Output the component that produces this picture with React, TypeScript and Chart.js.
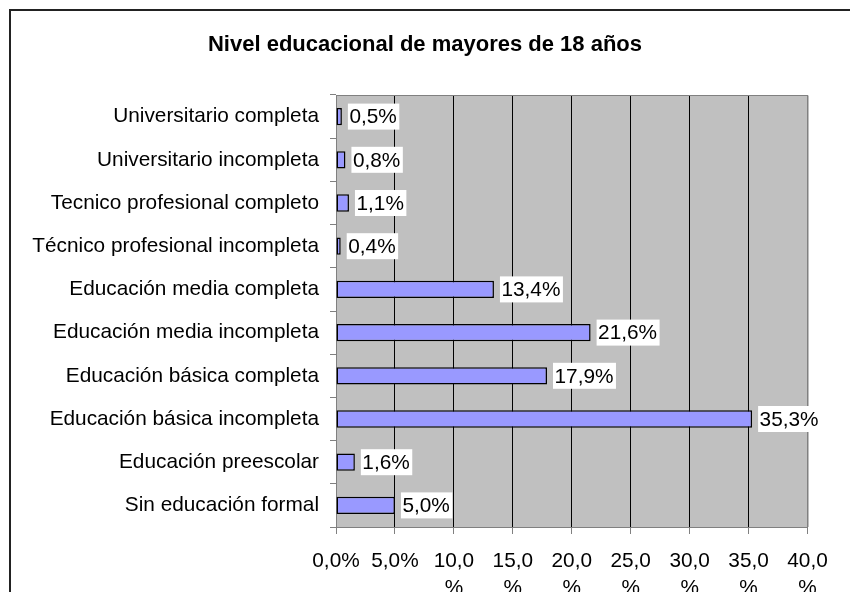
import { useEffect, useRef } from "react";
import { Chart, registerables } from "chart.js";

Chart.register(...registerables);

const TITLE = "Nivel educacional de mayores de 18 años";

const categories = [
  "Universitario completa",
  "Universitario incompleta",
  "Tecnico profesional completo",
  "Técnico profesional incompleta",
  "Educación media completa",
  "Educación media incompleta",
  "Educación básica completa",
  "Educación básica incompleta",
  "Educación preescolar",
  "Sin educación formal",
];

const values = [0.5, 0.8, 1.1, 0.4, 13.4, 21.6, 17.9, 35.3, 1.6, 5.0];

const valueLabels = ["0,5%", "0,8%", "1,1%", "0,4%", "13,4%", "21,6%", "17,9%", "35,3%", "1,6%", "5,0%"];

const xTickLabels: (string | string[])[] = [
  "0,0%",
  "5,0%",
  ["10,0", "%"],
  ["15,0", "%"],
  ["20,0", "%"],
  ["25,0", "%"],
  ["30,0", "%"],
  ["35,0", "%"],
  ["40,0", "%"],
];

const FONT = '"Liberation Sans", Arial, sans-serif';
const FONT_SIZE = 20.8;

const framePlugin = {
  id: "frame",
  beforeDraw(chart: any) {
    const { ctx, chartArea } = chart;
    ctx.save();
    ctx.fillStyle = "#ffffff";
    ctx.fillRect(0, 0, chart.width, chart.height);
    ctx.strokeStyle = "#222222";
    ctx.lineWidth = 2;
    ctx.strokeRect(10, 10, 1200, 1200);
    ctx.fillStyle = "#C0C0C0";
    ctx.fillRect(chartArea.left, chartArea.top, chartArea.right - chartArea.left, chartArea.bottom - chartArea.top);
    ctx.fillStyle = "#000";
    ctx.font = `bold 22px ${FONT}`;
    ctx.textAlign = "center";
    ctx.textBaseline = "middle";
    ctx.fillText(TITLE, 425, 45);
    ctx.restore();
  },
  beforeDatasetsDraw(chart: any) {
    const { ctx, chartArea } = chart;
    ctx.save();
    ctx.strokeStyle = "#808080";
    ctx.lineWidth = 1;
    ctx.beginPath();
    ctx.moveTo(chartArea.left, chartArea.top + 0.5);
    ctx.lineTo(chartArea.right + 0.5, chartArea.top + 0.5);
    ctx.lineTo(chartArea.right + 0.5, chartArea.bottom);
    ctx.stroke();
    ctx.restore();
  },
  afterDatasetsDraw(chart: any) {
    const { ctx } = chart;
    const meta = chart.getDatasetMeta(0);
    ctx.save();
    ctx.font = `${FONT_SIZE}px ${FONT}`;
    ctx.textBaseline = "middle";
    ctx.textAlign = "left";
    meta.data.forEach((bar: any, i: number) => {
      const { x, y } = bar.getProps(["x", "y"], true);
      const text = valueLabels[i];
      const w = ctx.measureText(text).width;
      const bx = x + 6;
      ctx.fillStyle = "#ffffff";
      ctx.fillRect(bx, y - 13, w + 4, 26);
      ctx.fillStyle = "#000000";
      ctx.fillText(text, bx + 1.5, y + 1);
    });
    ctx.restore();
  },
};

export default function App() {
  const ref = useRef<HTMLCanvasElement | null>(null);

  useEffect(() => {
    if (!ref.current) return;
    const chart = new Chart(ref.current, {
      type: "bar",
      data: {
        labels: categories,
        datasets: [
          {
            data: values,
            backgroundColor: "#9999FF",
            borderColor: "#000000",
            borderWidth: 1.5,
            borderSkipped: false,
            barPercentage: 0.4,
            categoryPercentage: 1,
          },
        ],
      },
      options: {
        indexAxis: "y",
        responsive: false,
        animation: false,
        layout: { padding: { left: 0, top: 95, right: 42.5, bottom: 0 } },
        plugins: {
          legend: { display: false },
          title: { display: false },
          tooltip: { enabled: false },
        },
        scales: {
          x: {
            min: 0,
            max: 40,
            afterFit: (s: any) => {
              s.height = 65;
            },
            border: { color: "#808080", width: 1 },
            grid: {
              color: (c: any) => (c.index === 0 || c.index === 8 ? "#808080" : "#000000"),
              tickColor: "#808080",
              tickLength: 7,
              lineWidth: 1,
            },
            ticks: {
              stepSize: 5,
              autoSkip: false,
              maxRotation: 0,
              minRotation: 0,
              padding: 14,
              color: "#000000",
              font: { family: FONT, size: FONT_SIZE, lineHeight: 1.3 },
              callback: (_v: any, i: number) => xTickLabels[i],
            },
          },
          y: {
            afterFit: (s: any) => {
              s.width = 336;
            },
            border: { color: "#808080", width: 1 },
            grid: {
              drawOnChartArea: false,
              offset: true,
              color: "#808080",
              tickLength: 6,
            },
            ticks: {
              padding: 11,
              color: "#000000",
              font: { family: FONT, size: FONT_SIZE },
            },
          },
        },
      },
      plugins: [framePlugin],
    });
    return () => chart.destroy();
  }, []);

  return (
    <div style={{ position: "absolute", left: 0, top: 0, width: 850, height: 592, overflow: "hidden" }}>
      <canvas ref={ref} width={850} height={592} style={{ display: "block" }} />
    </div>
  );
}
